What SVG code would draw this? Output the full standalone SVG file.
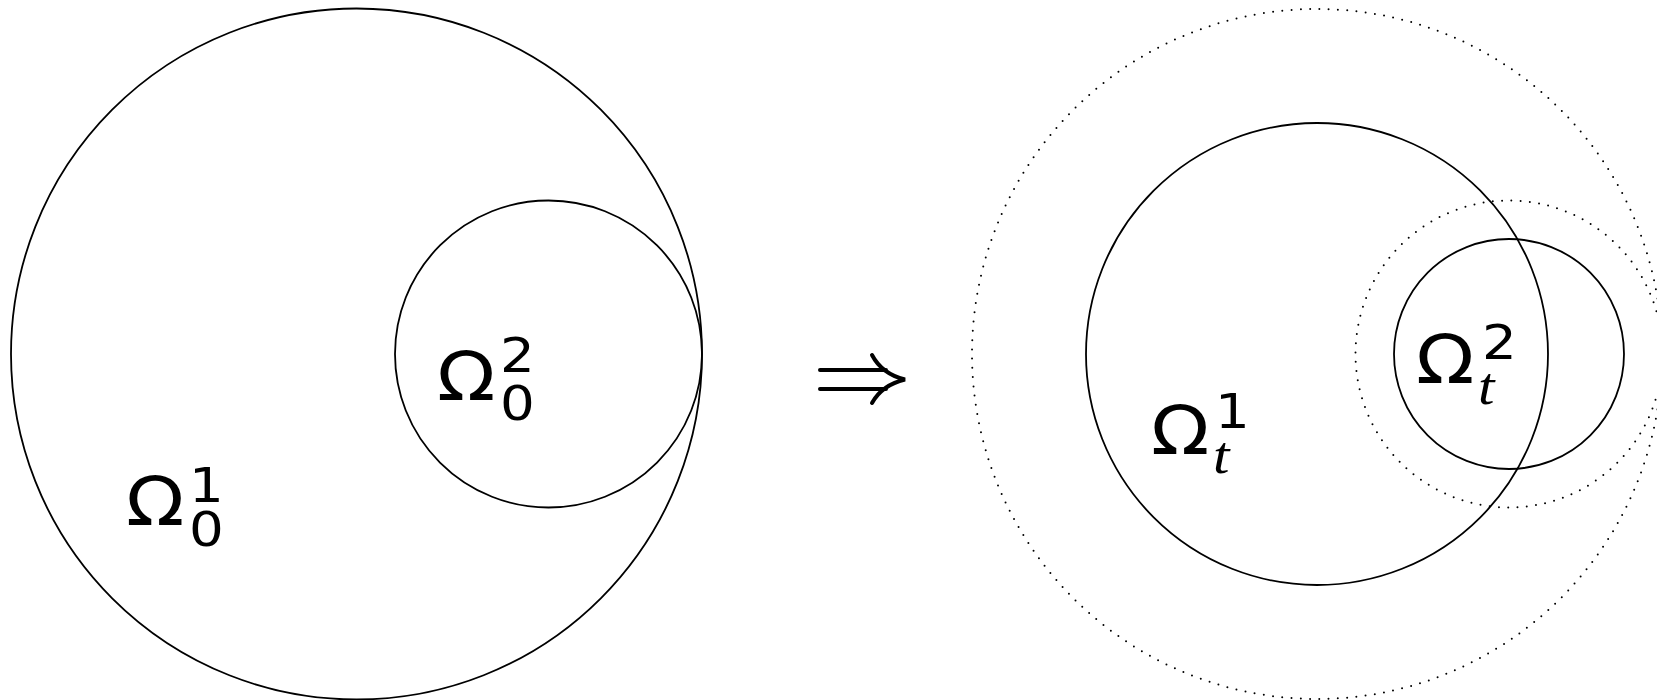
<svg xmlns="http://www.w3.org/2000/svg" width="1657" height="700" viewBox="0 0 1657 700">
<style>
.solid{fill:none;stroke:#000;stroke-width:1.8}
.dotted{fill:none;stroke:#000;stroke-width:2;stroke-linecap:round;stroke-dasharray:0 9.3}
.om{font-family:"DejaVu Sans",sans-serif;font-size:67px;fill:#000}
.sc{font-size:48px}
.it{font-family:"Liberation Serif",serif;font-style:italic;font-size:52px}
.arr{fill:none;stroke:#000;stroke-width:4;stroke-linecap:round}
</style>
<rect width="1657" height="700" fill="#fff"/>
<g id="omega0-1">
<circle class="solid" cx="356.5" cy="354" r="345.5"/>
<text class="om" transform="translate(126 525) scale(1.14 1)">Ω<tspan class="sc" x="55.3" y="-23">1</tspan><tspan class="sc" x="55.3" y="21">0</tspan></text>
</g>
<g id="omega0-2">
<circle class="solid" cx="548.5" cy="354" r="153.5"/>
<text class="om" transform="translate(437 400) scale(1.14 1)">Ω<tspan class="sc" x="55.3" y="-28">2</tspan><tspan class="sc" x="55.3" y="20">0</tspan></text>
</g>
<g id="connectors">
<path class="arr" d="M820 370 H886 M820 389 H886 M872 355 Q882 374 905 379.5 Q882 385 872 403"/>
</g>
<g id="omega0-1-ghost">
<circle class="dotted" cx="1317" cy="354" r="345"/>
</g>
<g id="omega0-2-ghost">
<circle class="dotted" cx="1509" cy="354" r="153.5"/>
</g>
<g id="omegat-1">
<circle class="solid" cx="1317" cy="354" r="231"/>
<text class="om" transform="translate(1151 454) scale(1.14 1)">Ω<tspan class="sc" x="56.1" y="-26">1</tspan><tspan class="it" x="54.4" y="19">t</tspan></text>
</g>
<g id="omegat-2">
<circle class="solid" cx="1509" cy="354" r="115"/>
<text class="om" transform="translate(1416 383) scale(1.14 1)">Ω<tspan class="sc" x="57.9" y="-24">2</tspan><tspan class="it" x="54.4" y="21">t</tspan></text>
</g>
</svg>
